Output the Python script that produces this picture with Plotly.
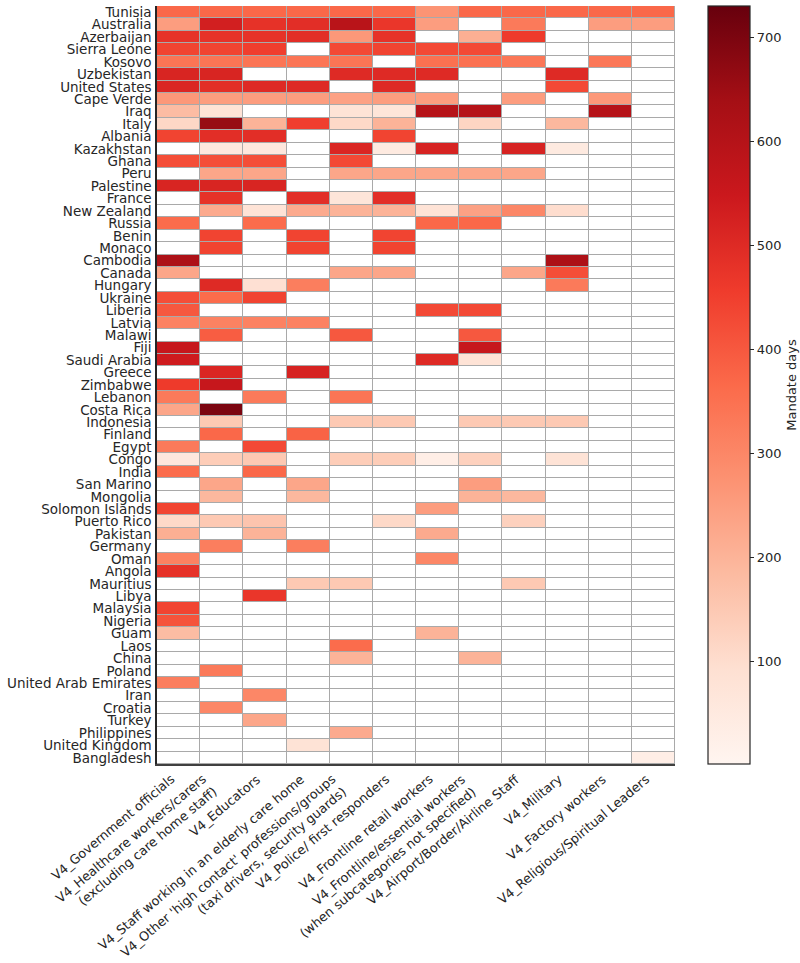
import plotly.graph_objects as go

N = None

countries = ["Tunisia", "Australia", "Azerbaijan", "Sierra Leone", "Kosovo", "Uzbekistan",
             "United States", "Cape Verde", "Iraq", "Italy", "Albania", "Kazakhstan", "Ghana",
             "Peru", "Palestine", "France", "New Zealand", "Russia", "Benin", "Monaco",
             "Cambodia", "Canada", "Hungary", "Ukraine", "Liberia", "Latvia", "Malawi", "Fiji",
             "Saudi Arabia", "Greece", "Zimbabwe", "Lebanon", "Costa Rica", "Indonesia",
             "Finland", "Egypt", "Congo", "India", "San Marino", "Mongolia", "Solomon Islands",
             "Puerto Rico", "Pakistan", "Germany", "Oman", "Angola", "Mauritius", "Libya",
             "Malaysia", "Nigeria", "Guam", "Laos", "China", "Poland", "United Arab Emirates",
             "Iran", "Croatia", "Turkey", "Philippines", "United Kingdom", "Bangladesh"]

categories = ["V4_Government officials",
              "V4_Healthcare workers/carers<br>(excluding care home staff)",
              "V4_Educators",
              "V4_Staff working in an elderly care home",
              "V4_Other 'high contact' professions/groups<br>(taxi drivers, security guards)",
              "V4_Police/ first responders",
              "V4_Frontline retail workers",
              "V4_Frontline/essential workers<br>(when subcategories not specified)",
              "V4_Airport/Border/Airline Staff",
              "V4_Military",
              "V4_Factory workers",
              "V4_Religious/Spiritual Leaders"]

# Mandate days per country (rows in order above), one list per column
government = [370, 250, 480, 440, 340, 515, 510, 260, 180, 115, 440, N, 420, N, 515, N, N, 360, N, N,
              620, 230, N, 420, 400, 310, N, 560, 540, N, 460, 330, 230, N, N, 330, 60, 360, N, N,
              440, 110, 210, N, 310, 480, N, N, 440, 410, 180, N, N, N, 320, N, N, N, N, N, N]
healthcare = [370, 530, 480, 440, 340, 515, 490, 250, 80, 660, 490, 60, 420, 230, 515, 480, 220, N, 440, 440,
              N, N, 500, 360, N, 310, 390, N, N, 510, 560, N, 700, 150, 370, N, 140, N, 230, 190,
              N, 150, N, 320, N, N, N, N, N, N, N, N, N, 330, N, N, 300, N, N, N, N]
educators = [370, 480, 480, 450, 340, N, 500, 250, N, 200, 490, 60, 420, 230, 515, N, 80, 360, N, N,
             N, N, 90, 440, N, 310, N, N, N, N, N, 330, N, N, N, 430, 150, 370, N, N,
             N, 160, 200, N, N, N, N, 470, N, N, N, N, N, N, N, 300, N, 230, N, N, N]
elderly_care = [370, 490, 490, N, 340, N, 500, 250, N, 450, N, N, N, N, N, 490, 220, N, 440, 440,
                N, N, 320, N, N, 310, N, N, N, 520, N, N, N, N, 380, N, N, N, 230, 190,
                N, N, N, 320, N, N, 150, N, N, N, N, N, N, N, N, N, N, N, N, 80, N]
high_contact = [370, 590, 260, 430, 340, 500, N, 240, 80, 110, N, 510, 430, 230, N, 70, 200, N, N, N,
                N, 230, N, N, N, N, 400, N, N, N, N, 340, N, 150, N, N, 140, N, N, N,
                N, N, N, N, N, N, 150, N, N, N, N, 360, 200, N, N, N, N, N, 220, N, N]
police = [370, 470, 480, 440, N, 500, 500, 250, 70, 200, 440, 50, N, 230, N, 490, 200, N, 440, 440,
          N, 230, N, N, N, N, N, N, N, N, N, N, N, 150, N, N, 140, N, N, N,
          N, 110, N, N, N, N, N, N, N, N, N, N, N, N, N, N, N, N, N, N, N]
retail = [270, 250, N, 430, 350, 500, N, 250, 600, N, N, 520, N, 230, N, N, 80, 370, N, N,
          N, N, N, N, 430, N, N, N, 500, N, N, N, N, N, N, N, 30, N, N, N,
          250, N, 220, N, 300, N, N, N, N, N, 200, N, N, N, N, N, N, N, N, N, N]
essential = [370, N, 210, 430, 350, N, N, N, 600, 120, N, N, N, 230, N, N, 240, 370, N, N,
             N, N, N, N, 430, N, 400, 560, 80, N, N, N, N, 150, N, N, 130, N, 250, 200,
             N, N, N, N, N, N, N, N, N, N, N, N, 200, N, N, N, N, N, N, N, N]
airport = [370, 330, 460, N, 335, N, N, 250, N, N, N, 520, N, 230, N, N, 300, N, N, N,
           N, 230, N, N, N, N, N, N, N, N, N, N, N, 150, N, N, N, N, N, 190,
           N, 130, N, N, N, N, 150, N, N, N, N, N, N, N, N, N, N, N, N, N, N]
military = [370, N, N, N, N, 500, 430, N, N, 190, N, 50, N, N, N, N, 100, N, N, N,
            620, 420, 330, N, N, N, N, N, N, N, N, N, N, 150, N, N, 80, N, N, N,
            N, N, N, N, N, N, N, N, N, N, N, N, N, N, N, N, N, N, N, N, N]
factory = [370, 250, N, N, 335, N, N, 260, 600, N, N, N, N, N, N, N, N, N, N, N,
           N, N, N, N, N, N, N, N, N, N, N, N, N, N, N, N, N, N, N, N,
           N, N, N, N, N, N, N, N, N, N, N, N, N, N, N, N, N, N, N, N, N]
religious = [370, 250, N, N, N, N, N, N, N, N, N, N, N, N, N, N, N, N, N, N,
             N, N, N, N, N, N, N, N, N, N, N, N, N, N, N, N, N, N, N, N,
             N, N, N, N, N, N, N, N, N, N, N, N, N, N, N, N, N, N, N, N, 30]

columns = [government, healthcare, educators, elderly_care, high_contact, police,
           retail, essential, airport, military, factory, religious]

z = [[col[i] for col in columns] for i in range(len(countries))]
z_under = [[0 for _ in columns] for _ in countries]

reds = [[0.0, "#fff5f0"], [0.125, "#fee0d2"], [0.25, "#fcbba1"], [0.375, "#fc9272"],
        [0.5, "#fb6a4a"], [0.625, "#ef3b2c"], [0.75, "#cb181d"], [0.875, "#a50f15"],
        [1.0, "#67000d"]]

font = "DejaVu Sans"
txt = "#262626"

fig = go.Figure()
fig.add_trace(go.Heatmap(
    z=z_under, x=categories, y=countries,
    colorscale=[[0, "white"], [1, "white"]], showscale=False,
    xgap=1, ygap=1, hoverinfo="skip"))
fig.add_trace(go.Heatmap(
    z=z, x=categories, y=countries,
    colorscale=reds, zmin=1, zmax=730,
    xgap=1, ygap=1,
    colorbar=dict(
        x=1.0637, xanchor="left", xref="paper",
        y=0.5, yanchor="middle", len=1.0, lenmode="fraction", ypad=0, xpad=0,
        thickness=42, outlinecolor=txt, outlinewidth=1.2,
        tickvals=[100, 200, 300, 400, 500, 600, 700],
        ticks="outside", ticklen=4, tickcolor=txt, tickwidth=1,
        tickfont=dict(family=font, size=13, color=txt),
        title=dict(text="Mandate days", side="right",
                   font=dict(family=font, size=13, color=txt)),
    )))

# rotated category labels, right/top aligned at each column like the reference
for cat in categories:
    fig.add_annotation(
        x=cat, xref="x", y=0, yref="paper",
        text=cat, textangle=-40, xanchor="right", yanchor="top",
        align="right", showarrow=False, yshift=-6, xshift=0,
        borderpad=0, font=dict(family=font, size=12.8, color=txt))

fig.update_layout(
    width=800, height=963,
    margin=dict(l=157, r=125, t=6, b=199, autoexpand=False),
    plot_bgcolor="#a9a9a9", paper_bgcolor="white",
    font=dict(family=font, size=13, color=txt),
)
fig.update_xaxes(type="category", categoryorder="array", categoryarray=categories,
                 range=[-0.5, len(categories) - 0.5], autorange=False,
                 showline=True, linecolor="#404040", linewidth=1.5,
                 showgrid=False, zeroline=False, ticks="", showticklabels=False)
fig.update_yaxes(autorange="reversed", showline=True, linecolor=txt, linewidth=1.5,
                 showgrid=False, zeroline=False, ticks="outside", ticklen=1,
                 tickcolor="white", tickfont=dict(size=13.5),
                 tickmode="array", tickvals=countries, ticktext=countries)

fig.write_html("out.html")
